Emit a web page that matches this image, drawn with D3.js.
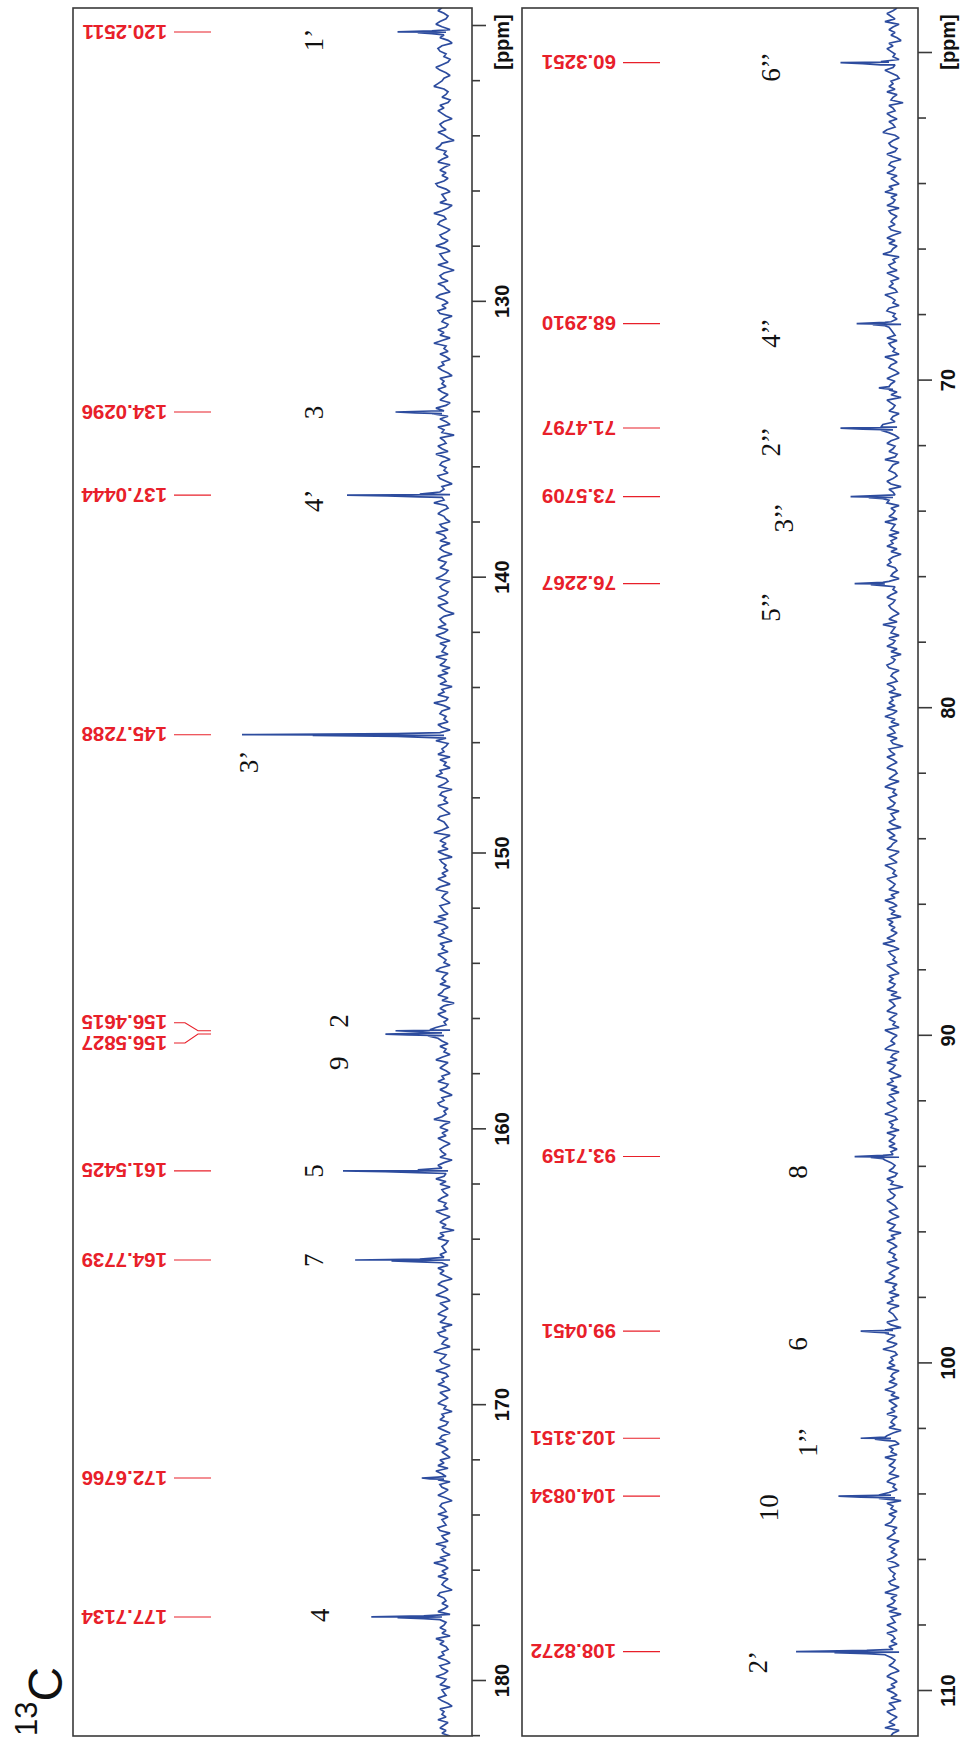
<!DOCTYPE html>
<html><head><meta charset="utf-8">
<script src="https://cdn.jsdelivr.net/npm/d3@7"></script>
<style>html,body{margin:0;padding:0;background:#fff}</style>
</head><body>
<svg id="c" width="967" height="1746"></svg>
<script>
// ---------------- DATA ----------------
// baseline noise (intensity units) read along each strip, top to bottom
const noise1 = [1,3,0,-2,-1,2,4,1,-3,-1,0,2,-2,-4,1,3,2,-1,0,-3,
 -2,1,4,2,-1,-3,0,1,3,5,0,-2,-1,1,-3,-2,2,0,3,1,
 -1,-4,0,2,1,-1,3,0,-2,-5,1,2,4,-1,0,-2,1,3,-3,0,
 2,-1,1,-2,0,4,3,-1,-3,1,0,-1,2,-4,-2,1,5,0,-1,2,
 3,0,-3,-1,2,1,-2,0,4,-1,-3,2,1,0,-2,3,-1,-5,0,2,
 1,-2,3,0,-1,-3,2,4,0,-2,1,-1,3,2,-4,0,1,-2,-1,3,
 0,2,-3,1,5,-1,0,-2,2,-1,-3,1,0,3,1,-2,-4,2,0,1,
 -1,3,1,-2,0,2,-3,-1,4,0,1,-2,2,-1,-3,3,0,1,-5,2,
 0,-1,3,1,-2,4,0,-3,1,2,-1,0,-2,3,2,-1,-4,1,0,2,
 -3,1,0,5,-1,-2,1,3,0,-1,-3,2,1,-2,4,0,-1,2,-3,1,
 2,0,-4,1,3,-1,0,2,-2,-1,1,4,-3,0,2,1,-2,-1,3,0,
 -2,3,1,-1,-5,0,2,1,-1,3,-2,0,4,1,-3,2,-1,0,1,-2,
 4,-1,0,2,-3,1,-2,3,0,-1,2,-4,1,0,3,-2,-1,5,0,-3,
 1,2,-1,0,-2,3,1,-3,2,0,-1,4,-2,-1,1,0,3,-3,2,-1,
 0,-3,2,1,4,-1,-2,0,3,-4,1,2,-1,0,-2,3,1,-1,-3,2,
 3,0,-1,-2,1,5,-3,0,2,-1,1,-2,3,0,-4,2,1,-1,0,-2,
 1,-1,3,0,-3,2,4,-2,0,1,-1,-3,2,1,0,-2,3,-1,5,0,
 -2,1,0,3,-1,-4,2,0,1,-2,3,1,-1,0,-3,2,4,-2,0,1,
 -1,2,-3,0,1,3,-2,1,-5,0,2,-1,3,1,-2,0,-1,4,-3,1,
 0,3,1,-2,2,-1,0,-3,1,4,-2,0,2,-1,-3,1,0,3,-2,-1,
 2,-1,-4,1,0,3,2,-2,0,-1,1,5,-3,0,2,-2,1,-1,3,0,
 -3,0,2,1,-1,2,-4,0,3,1,-2,-1,0,4,-1,2,-3,1,0,-2,
 1,3,-1,0,-2,4,1,-3,0,2,-1,1,-5,2,0,3,-2,-1,1,0,
 -1,2,0,-3,1,-2,3,0,2,-1,-4,1,3,0,-2,1,4,-1,-3,2,
 0,-2,1,3,-1,0,2,-4,1,-1,3,2,-2,0,1,-3,2,5,-1,0,
 2,1,-3,0,4,-1,-2,1,0,3,-1,-3,2,0,-2,1,3,-1,0,-4,
 1,0,2,-2,-1,3,0,-3,1,2,-1,4,0,-2,1,-1,-3,2,0,3,
 -2,4,1,-1,0,-3,2,1,-2,0,3,-1,-4,1,2,0,-1,3,-2,1,
 0,-1,3,2,-3,1,0,-2,4,-1,1,0,-3,2,-1,5,0,-2,1,-1,
 3,-2,0,1,-1,-4,2,3,0,-1,1,-2,0,3,-3,1,2,-1,0,2,
 -1,1,-3,4,0,2,-1,-2,1,0,3,-1,-3,2,1,-2,0,4,-1,0,
 2,-3,1,0,-1,3,1,-2,-4,2,0,1,-1,3,-2,0,2,-1,1,-3];
const noise2 = [-2,0,3,1,-1,4,-3,0,2,-1,1,-2,-4,2,0,3,1,-1,0,-3,
 2,-1,0,4,1,-2,-3,1,0,2,-1,3,-2,0,1,-5,2,0,-1,3,
 1,-2,2,0,-1,3,5,-1,-3,0,2,1,-2,-1,3,0,-4,1,2,-1,
 0,3,-2,1,-1,-3,2,0,4,-2,1,-1,0,3,-3,2,1,-2,0,1,
 -1,2,1,-4,0,3,-1,2,-2,0,1,5,-3,0,-1,2,1,-2,3,0,
 -3,1,0,2,-1,-2,4,1,-1,0,-3,2,3,-1,0,-2,1,-4,2,1,
 0,-1,3,-2,2,1,-1,0,-3,4,0,-2,1,2,-1,-3,0,3,-1,1,
 2,0,-2,1,-4,3,1,-1,0,2,-3,0,1,-1,5,-2,0,2,-1,-3,
 1,3,-1,0,2,-2,-1,4,-3,0,1,2,-1,-2,0,3,1,-4,2,0,
 -1,0,2,3,-3,1,-1,0,2,-2,4,-1,0,1,-3,2,-2,1,0,3,
 -2,1,-4,0,2,1,3,-1,-2,0,1,-3,2,4,-1,0,-2,1,3,-1,
 0,2,1,-1,-3,0,2,-2,5,-1,0,1,-3,2,-1,0,3,-2,1,-4,
 1,-1,0,3,2,-3,0,1,-1,-2,3,0,-1,2,-4,1,0,2,-1,3,
 -2,0,4,-1,1,-3,2,0,-1,3,-2,1,0,-5,2,1,-1,3,0,-2,
 1,3,-1,-2,0,2,-3,1,4,-1,0,-2,2,1,-1,0,3,-3,1,0,
 -1,2,0,-4,3,1,-1,2,-2,0,1,3,-3,-1,2,0,-2,4,1,-1,
 0,-2,3,1,-1,0,2,-3,1,-1,4,0,-2,2,-1,1,-4,3,0,2,
 -1,1,-2,0,3,-1,5,0,-3,2,1,-1,0,-2,3,1,-1,-3,2,0,
 2,-1,0,3,-2,1,-4,2,0,-1,1,3,-2,0,2,-1,0,-3,4,1,
 -2,0,1,-1,2,4,-3,0,1,-2,3,-1,0,2,-1,-4,1,0,3,-2,
 1,-3,2,0,-1,3,1,-2,0,4,-1,-2,2,0,1,-3,3,-1,0,2,
 -1,2,-2,1,0,-3,4,1,-1,0,2,-2,-1,3,0,1,-5,2,1,-1,
 0,3,1,-1,-2,2,0,-3,1,3,-1,0,2,-4,1,-1,3,0,-2,1,
 2,-1,0,-2,3,1,-3,0,2,-1,1,4,-2,0,-1,2,-3,1,0,3,
 -3,1,2,0,-1,-2,3,1,-4,0,2,-1,1,3,-2,0,5,-1,-2,1,
 0,2,-1,3,-3,0,1,-1,2,-2,0,4,-1,1,-3,2,0,-2,1,-1,
 3,-2,0,1,-1,2,-4,0,3,1,-1,-3,2,0,1,-2,4,-1,0,2,
 -1,0,2,-3,1,3,-1,0,-2,2,1,-1,-4,3,0,1,-2,2,-1,0,
 1,4,-2,0,-1,1,3,-3,0,2,-1,1,-2,0,3,-1,-3,2,1,-1,
 0,-1,2,1,-3,0,4,-2,1,-1,0,3,-2,2,-4,1,0,-1,3,0,
 -2,3,0,-1,1,-2,2,0,-3,4,1,-1,0,2,-1,-3,1,3,0,-2,
 1,-1,3,0,-2,1,-4,2,0,-1,3,1,-2,0,2,-1,4,-3,0,1];

// strip 1 (aromatic / carbonyl region)
const noise1Range = [119.38, 182.03];
const peak1Ppm      = [120.2511, 134.0296, 137.0444, 145.7288, 156.4615, 156.5827, 161.5425, 164.7739, 172.6766, 177.7134];
const peak1Height   = [23, 24, 48, 100, 24, 29, 50, 44, 11, 36];
const peak1ShoulderA= [13, 14, 28, 65, 14, 18, 29, 26, 7, 23];
const peak1ShoulderB= [6, 6, 12, 23, 7, 8, 13, 12, 3, 10];
const label1Ppm     = [120.2511, 134.0296, 137.0444, 145.7288, 156.4615, 156.5827, 161.5425, 164.7739, 172.6766, 177.7134];
const label1Shift   = [0, 0, 0, 0, -8, 9, 0, 0, 0, 0];
const assign1Text   = ["1\u2019", "3", "4\u2019", "3\u2019", "2", "9", "5", "7", "4"];
const assign1Ppm    = [120.54, 134.05, 137.25, 146.72, 156.11, 157.64, 161.55, 164.78, 177.65];
const assign1Level  = [60, 60, 60, 92, 47.5, 47.5, 60, 60, 57];
const ticks1Major   = [120, 130, 140, 150, 160, 170, 180];
const ticks1Minor   = [122,124,126,128,132,134,136,138,142,144,146,148,152,154,156,158,162,164,166,168,172,174,176,178,182];
const tick1Labels   = ["", "130", "140", "150", "160", "170", "180"];

// strip 2 (sugar / upfield region)
const noise2Range = [58.66, 111.4];
const peak2Ppm      = [60.3251, 68.2910, 70.25, 71.4797, 73.5709, 76.2267, 93.7159, 99.0451, 102.3151, 104.0834, 108.8272];
const peak2Height   = [26, 18, 7, 26, 21, 19, 19, 16, 16, 27, 48];
const peak2ShoulderA= [15, 10, 4, 15, 12, 11, 11, 9, 9, 16, 29];
const peak2ShoulderB= [6, 4, 2, 6, 5, 5, 5, 4, 4, 7, 13];
const label2Ppm     = [60.3251, 68.2910, 71.4797, 73.5709, 76.2267, 93.7159, 99.0451, 102.3151, 104.0834, 108.8272];
const label2Shift   = [0,0,0,0,0,0,0,0,0,0];
const assign2Text   = ["6\u2019\u2019", "4\u2019\u2019", "2\u2019\u2019", "3\u2019\u2019", "5\u2019\u2019", "8", "6", "1\u2019\u2019", "10", "2\u2019"];
const assign2Ppm    = [60.46, 68.58, 71.90, 74.22, 76.94, 94.19, 99.44, 102.43, 104.44, 109.15];
const assign2Level  = [56, 56, 56, 49.5, 56, 42.6, 42.6, 37.6, 57, 62.4];
const ticks2Major   = [60, 70, 80, 90, 100, 110];
const ticks2Minor   = [62,64,66,68,72,74,76,78,82,84,86,88,92,94,96,98,102,104,106,108];
const tick2Labels   = ["", "70", "80", "90", "100", "110"];

// ---------------- LAYOUT ----------------
const BLUE = "#2d4c9e", RED = "#e8202a", FRAME = "#3a3a3a";
const panels = [
  {left:73, right:472, top:8, bottom:1736, dom:[120,180], rng:[25,1680], base:444, full:242,
   noise:noise1, nr:noise1Range, pPpm:peak1Ppm, pH:peak1Height, pA:peak1ShoulderA, pB:peak1ShoulderB,
   lPpm:label1Ppm, lShift:label1Shift, aT:assign1Text, aP:assign1Ppm, aL:assign1Level,
   tMaj:ticks1Major, tMin:ticks1Minor, tLab:tick1Labels},
  {left:522, right:918, top:8, bottom:1736, dom:[60,110], rng:[52,1690], base:893, full:691,
   noise:noise2, nr:noise2Range, pPpm:peak2Ppm, pH:peak2Height, pA:peak2ShoulderA, pB:peak2ShoulderB,
   lPpm:label2Ppm, lShift:label2Shift, aT:assign2Text, aP:assign2Ppm, aL:assign2Level,
   tMaj:ticks2Major, tMin:ticks2Minor, tLab:tick2Labels}
];

const svg = d3.select("#c");
svg.append("rect").attr("width",967).attr("height",1746).attr("fill","#fff");

panels.forEach((P, idx) => {
  const y = d3.scaleLinear().domain(P.dom).range(P.rng);
  const x = d3.scaleLinear().domain([0,100]).range([P.base, P.full]);
  const g = svg.append("g");

  const cid = "clip"+idx;
  svg.append("clipPath").attr("id", cid).append("rect")
    .attr("x", P.left).attr("y", P.top).attr("width", P.right-P.left).attr("height", P.bottom-P.top);

  // spectrum points
  const n = P.noise.length;
  const pts = P.noise.map((v,i) => ({ppm: P.nr[0] + i*(P.nr[1]-P.nr[0])/(n-1), v}));
  P.pPpm.forEach((p,i) => {
    pts.push({ppm:p-0.035, v:P.pB[i]}, {ppm:p, v:P.pH[i]}, {ppm:p+0.03, v:P.pA[i]}, {ppm:p+0.065, v:P.pB[i]});
  });
  pts.sort((a,b) => a.ppm - b.ppm);
  const line = d3.line().x(d => x(d.v)).y(d => y(d.ppm)).curve(d3.curveLinear);
  g.append("path").datum(pts).attr("d", line)
    .attr("fill","none").attr("stroke", BLUE).attr("stroke-width", 1.7)
    .attr("stroke-linejoin","miter").attr("stroke-miterlimit", 2)
    .attr("clip-path", `url(#${cid})`);

  // frame
  g.append("rect").attr("x", P.left).attr("y", P.top)
    .attr("width", P.right-P.left).attr("height", P.bottom-P.top)
    .attr("fill","none").attr("stroke", FRAME).attr("stroke-width", 1.6);

  // axis ticks
  const axMaj = d3.axisRight(y).tickValues(P.tMaj).tickSize(14).tickSizeOuter(0)
    .tickFormat((d,i) => P.tLab[i]);
  const ga = g.append("g").attr("transform", `translate(${P.right},0)`).call(axMaj);
  ga.select(".domain").remove();
  ga.selectAll(".tick line").attr("stroke", FRAME).attr("stroke-width", 1.6);
  ga.selectAll(".tick text")
    .attr("transform","rotate(-90)").attr("x",0).attr("y",37).attr("dy",0)
    .attr("text-anchor","middle").attr("fill","#111")
    .style("font-family","'Liberation Sans', Arial, sans-serif").style("font-weight","bold").style("font-size","20px");
  const axMin = d3.axisRight(y).tickValues(P.tMin).tickSize(8).tickFormat("");
  const gm = g.append("g").attr("transform", `translate(${P.right},0)`).call(axMin);
  gm.select(".domain").remove();
  gm.selectAll(".tick line").attr("stroke", FRAME).attr("stroke-width", 1.6);

  // [ppm] unit label
  g.append("text").attr("transform", `translate(${P.right+37},42) rotate(-90)`)
    .attr("text-anchor","middle").attr("fill","#111")
    .style("font-family","'Liberation Sans', Arial, sans-serif").style("font-weight","bold").style("font-size","20px")
    .text("[ppm]");

  // red peak labels (upside down) with leaders
  P.lPpm.forEach((p,i) => {
    const py = y(p), ly = py + P.lShift[i];
    const x0 = P.left + 101, x1 = P.left + 112, x2 = P.left + 125, x3 = P.left + 138;
    g.append("path").attr("d", `M${x0},${ly}H${x1}L${x2},${py}H${x3}`)
      .attr("fill","none").attr("stroke", RED).attr("stroke-width", 1.1);
    g.append("text").attr("transform", `translate(${P.left+94},${ly}) rotate(180)`)
      .attr("text-anchor","start").attr("dy","0.36em").attr("fill", RED)
      .style("font-family","'Liberation Sans', Arial, sans-serif").style("font-weight","bold").style("font-size","20.5px")
      .text(p.toFixed(4));
  });

  // assignment labels
  P.aT.forEach((t,i) => {
    g.append("text").attr("transform", `translate(${x(P.aL[i])},${y(P.aP[i])}) rotate(-90)`)
      .attr("text-anchor","middle").attr("fill","#111")
      .style("font-family","'Liberation Serif', 'Times New Roman', serif").style("font-size","27px")
      .text(t);
  });
});

// 13C tag
const tag = svg.append("text").attr("transform","translate(62,1736) rotate(-90)")
  .attr("fill","#111").style("font-family","'Liberation Sans', Arial, sans-serif");
tag.append("tspan").text("13").style("font-size","31px").attr("dy","-25");
tag.append("tspan").text("C").style("font-size","48px").attr("dy","25");
</script>
</body></html>
